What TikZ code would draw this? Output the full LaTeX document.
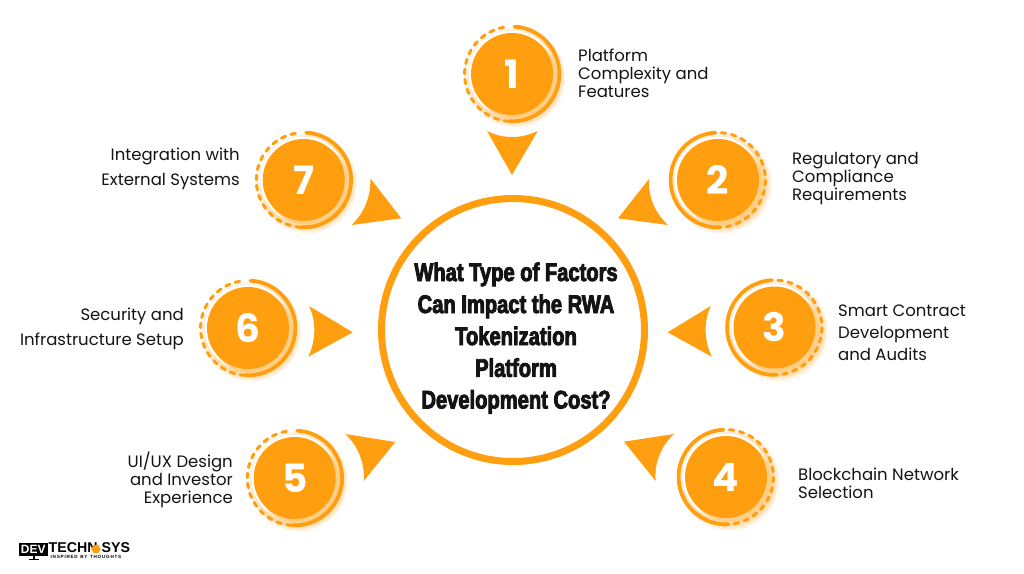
\documentclass[tikz,border=0pt]{standalone}
\usepackage{fontspec}
\usetikzlibrary{shapes.geometric}
\setmainfont{Poppins}
\newfontfamily\titlefont[FakeStretch=0.79,FakeBold=3.4]{Liberation Sans Bold}
\newfontfamily\logofont{Liberation Sans Bold}
\definecolor{orng}{HTML}{FF9E0F}
\definecolor{inkc}{HTML}{141414}
\tikzset{
  x=1pt,y=-1pt,
  discfill/.style={fill=orng,draw=none},
  numtext/.style={text=white,font=\fontsize{39}{39}\selectfont\bfseries,inner sep=0pt},
  lblL/.style={anchor=west,align=left,text=inkc,inner sep=0pt,font=\fontsize{16.5}{18}\selectfont},
  lblR/.style={anchor=east,align=right,text=inkc,inner sep=0pt,font=\fontsize{16.5}{18}\selectfont},
  ringsolid/.style={draw=orng,line width=3.8pt,line cap=round},
  ringdash/.style={draw=orng,line width=3pt,line cap=round,dash pattern=on 4.6pt off 5.6pt},
  pointer/.style={fill=orng,draw=none},
}
% #1 name, #2 x, #3 y, #4 number, #5 solid-arc start, #6 dashed start
\newcommand{\badge}[6]{%
  \foreach \rr/\op in {50.5/0.08,49.5/0.12,48.5/0.16,47/0.28,45/0.5}{
    \fill[orng!50!white,opacity=\op] (#2+3.5,#3+3.5) circle[radius=\rr];
  }
  \fill[white] (#2,#3) circle[radius=43.4];
  \fill[orng!50!white] (#2+3.6,#3+3.6) circle[radius=41.5];
  \draw[ringsolid] (#2,#3) ++(#5:47.4) arc[start angle=#5,delta angle=180,radius=47.4];
  \draw[ringdash] (#2,#3) ++(#6:47.4) arc[start angle=#6,delta angle=172,radius=47.4];
  \node[circle,discfill,minimum size=82pt,inner sep=0pt] (#1) at (#2,#3) {};
  \node[numtext] (#1num) at (#2,#3) {#4};
}
\begin{document}
\begin{tikzpicture}
\useasboundingbox (0,0) rectangle (1024,573);
\fill[white] (0,0) rectangle (1024,573);

% centre
\node[circle,draw=orng,line width=7pt,fill=white,minimum size=263pt,inner sep=0pt] (hub) at (513,330) {};
\foreach \t/\yy/\nm in {What Type of Factors/281/a,Can Impact the RWA/313/b,Tokenization/345/c,Platform/376.8/d,Development Cost?/408.5/e}{
  \node[anchor=base,text=inkc,inner sep=0pt,font=\titlefont\fontsize{25.5}{25.5}\selectfont] (title\nm) at (516,\yy) {\t};
}

% badges
\badge{b1}{512}{74}{1}{-87}{94}
\badge{b2}{718}{180}{2}{87}{-86}
\badge{b3}{774.5}{327.5}{3}{87}{-86}
\badge{b4}{726}{477}{4}{87}{-86}
\badge{b5}{294.7}{478}{5}{-87}{94}
\badge{b6}{248}{328}{6}{-87}{94}
\badge{b7}{303.7}{180}{7}{-87}{94}

% pointers
\fill[pointer] (487,131) .. controls (503,139) and (521,139) .. (537.7,131) -- (512,175) -- cycle;
\fill[pointer] (649,179) .. controls (648,197) and (655,213) .. (668,225) -- (618,218.3) -- cycle;
\fill[pointer] (710.7,306) .. controls (703.5,322) and (704,340) .. (711.7,356.7) -- (667.7,332.3) -- cycle;
\fill[pointer] (674,434) .. controls (661,446) and (654,463) .. (655.7,481) -- (624,441.7) -- cycle;
\fill[pointer] (345.3,434) .. controls (358,446) and (365,463) .. (363.7,481) -- (395.3,442) -- cycle;
\fill[pointer] (309,306) .. controls (316.5,322) and (316,340) .. (308.3,356.7) -- (352.7,332.3) -- cycle;
\fill[pointer] (370.3,178.3) .. controls (371,197) and (364,213) .. (351.7,225) -- (401.3,218.3) -- cycle;

% labels
\node[lblL] (t1) at (578,73.5) {Platform\\Complexity and\\Features};
\node[lblL] (t2) at (792,178.2) {Regulatory and\\Compliance\\Requirements};
\node[lblL,font=\fontsize{16.5}{22}\selectfont] (t3) at (838,332.5) {Smart Contract\\Development\\and Audits};
\node[lblL] (t4) at (798,483.5) {Blockchain Network\\Selection};
\node[lblR] (t5) at (233,479.5) {UI/UX Design\\and Investor\\Experience};
\node[lblR,font=\fontsize{16.5}{25}\selectfont] (t6) at (184,328.5) {Security and\\Infrastructure Setup};
\node[lblR,font=\fontsize{16.5}{25}\selectfont] (t7) at (240,169) {Integration with\\External Systems};

% logo
\fill[black] (19,543) rectangle (47.5,556);
\fill[black] (32.5,556) rectangle (35,559);
\fill[black] (29,559) rectangle (38.5,560);
\node[text=white,inner sep=0pt,font=\logofont\fontsize{12}{12}\selectfont] (logoa) at (33.2,549.7) {DEV};
\node[anchor=west,text=black,inner sep=0pt,font=\logofont\fontsize{14.2}{14.2}\selectfont] (logob) at (48.5,548) {TECHN};
\node[regular polygon,regular polygon sides=6,fill=orng,minimum size=9.5pt,inner sep=0pt] (logoc) at (96,549) {};
\node[anchor=west,text=black,inner sep=0pt,font=\logofont\fontsize{14.2}{14.2}\selectfont] (logod) at (101.5,548) {SYS};
\node[anchor=west,text=black,inner sep=0pt,font=\logofont\fontsize{4.6}{4.6}\selectfont] (logoe) at (50.5,556.6) {I\,N\,S\,P\,I\,R\,E\,D\ \ B\,Y\ \ T\,H\,O\,U\,G\,H\,T\,S};
\end{tikzpicture}
\end{document}
